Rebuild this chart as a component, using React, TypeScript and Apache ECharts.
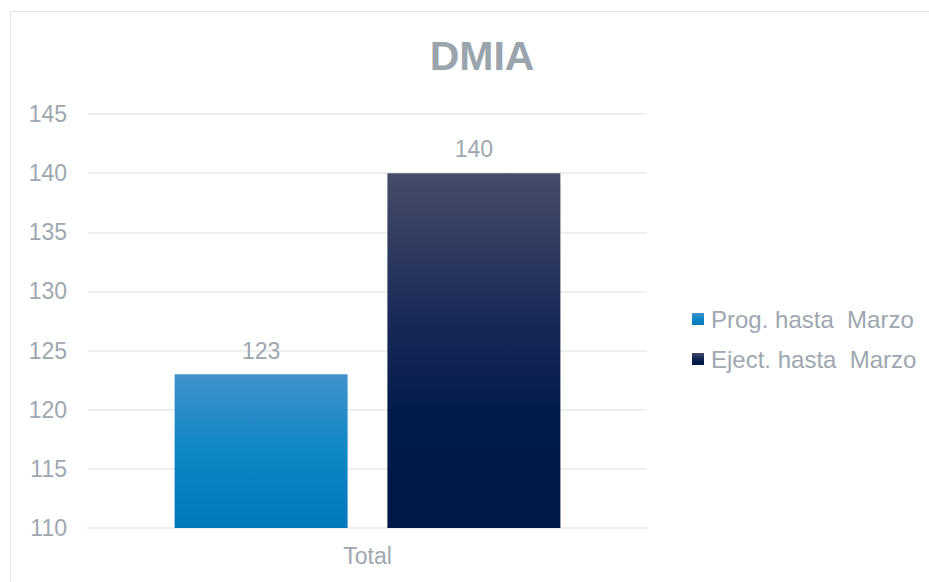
import React, { useEffect, useRef } from "react";
import * as echarts from "echarts";

const categories = ["Total"];
const seriesNames = ["Prog. hasta  Marzo", "Eject. hasta  Marzo"];
const progValues = [123];
const ejecValues = [140];
const yMin = 110;
const yMax = 145;
const yStep = 5;

const FONT = "'Liberation Sans', Arial, sans-serif";
const TXT = "#9ea7b0";

export default function App() {
  const ref = useRef<HTMLDivElement>(null);
  useEffect(() => {
    if (!ref.current) return;
    const chart = echarts.init(ref.current, undefined, { renderer: "svg" });
    const blueGrad = new echarts.graphic.LinearGradient(0, 0, 0, 1, [
      { offset: 0, color: "#4193cc" },
      { offset: 0.5, color: "#0f86c5" },
      { offset: 1, color: "#0078bc" },
    ]);
    const darkGrad = new echarts.graphic.LinearGradient(0, 0, 0, 1, [
      { offset: 0, color: "#464c68" },
      { offset: 0.4, color: "#1a2a58" },
      { offset: 0.7, color: "#011a4a" },
      { offset: 1, color: "#001848" },
    ]);
    chart.setOption({
      animation: false,
      backgroundColor: "#ffffff",
      textStyle: { fontFamily: FONT },
      graphic: [
        {
          type: "rect",
          shape: { x: 10.5, y: 11.5, width: 960, height: 620 },
          style: { fill: "none", stroke: "#e4e4e4", lineWidth: 1 },
          silent: true,
        },
      ],
      title: {
        text: "DMIA",
        left: 477,
        textAlign: "center",
        top: 30,
        textStyle: { fontFamily: FONT, fontSize: 41, fontWeight: "bold", color: "#9aa4ad" },
      },
      legend: {
        orient: "vertical",
        left: 687,
        top: 302,
        itemWidth: 12,
        itemHeight: 12,
        itemGap: 16,
        icon: "rect",
        textStyle: { fontFamily: FONT, fontSize: 24, color: TXT, padding: [0, 0, 0, 2] },
        data: [
          { name: seriesNames[0], itemStyle: { color: blueGrad } },
          { name: seriesNames[1], itemStyle: { color: darkGrad } },
        ],
      },
      grid: { left: 88, right: 282, top: 114, bottom: 54, containLabel: false },
      xAxis: {
        type: "category",
        data: categories,
        axisLine: { lineStyle: { color: "#eeeeee", width: 2 } },
        axisTick: { show: false },
        axisLabel: { fontFamily: FONT, fontSize: 23, color: TXT, margin: 16 },
      },
      yAxis: {
        type: "value",
        min: yMin,
        max: yMax,
        interval: yStep,
        axisLine: { show: false },
        axisTick: { show: false },
        splitLine: { lineStyle: { color: "#efefef", width: 2 } },
        axisLabel: { fontFamily: FONT, fontSize: 23, color: TXT, margin: 21 },
      },
      series: [
        {
          name: seriesNames[0],
          type: "bar",
          data: progValues,
          barWidth: 173,
          barGap: "23%",
          itemStyle: { color: blueGrad },
          label: { show: true, position: "top", distance: 12, fontFamily: FONT, fontSize: 23, color: TXT },
        },
        {
          name: seriesNames[1],
          type: "bar",
          data: ejecValues,
          barWidth: 173,
          barGap: "23%",
          itemStyle: { color: darkGrad },
          label: { show: true, position: "top", distance: 13, fontFamily: FONT, fontSize: 23, color: TXT },
        },
      ],
    });
    return () => chart.dispose();
  }, []);
  return (
    <div style={{ position: "absolute", left: 0, top: 0, width: 929, height: 582 }}>
      <div ref={ref} style={{ width: 929, height: 582 }} />
    </div>
  );
}
